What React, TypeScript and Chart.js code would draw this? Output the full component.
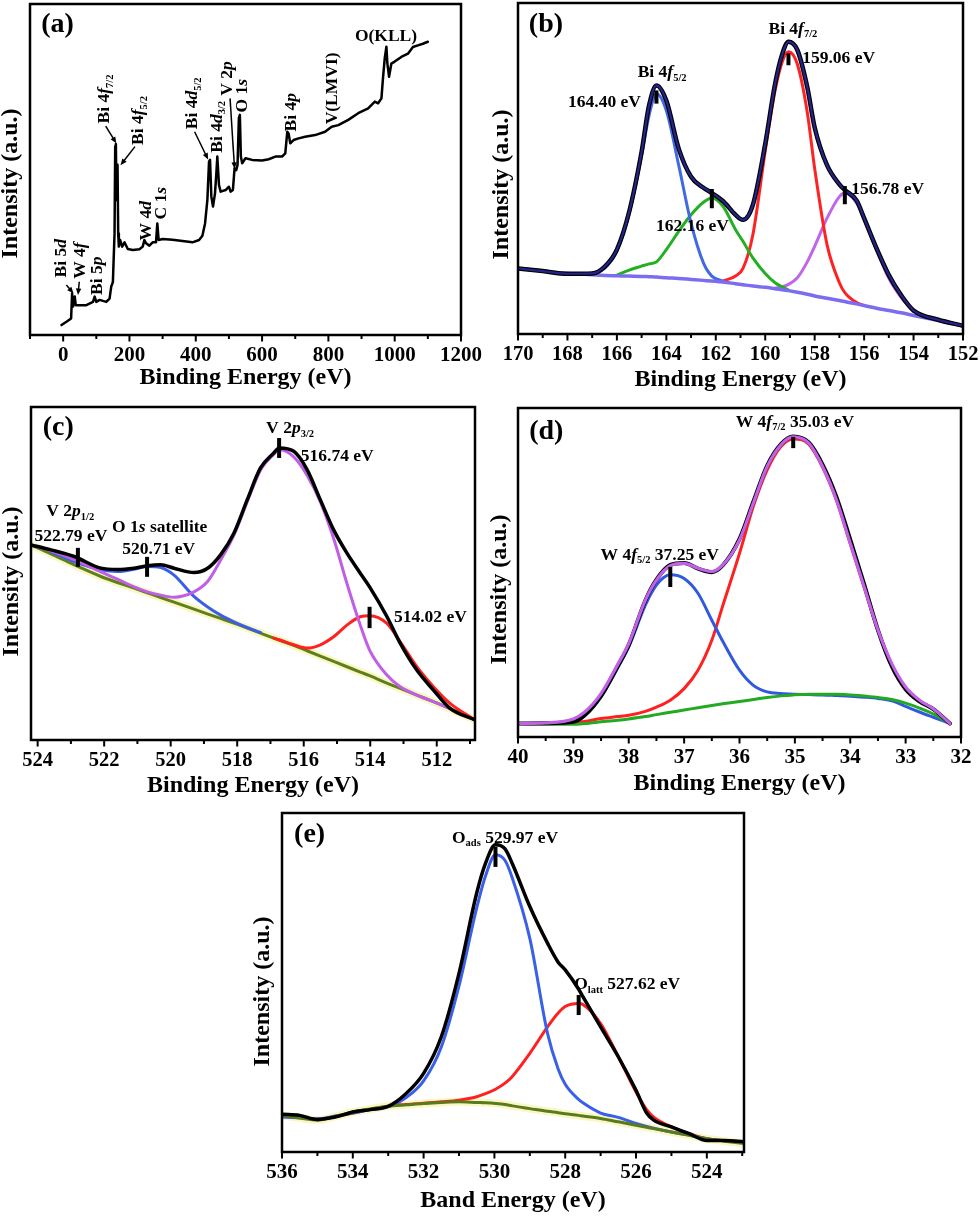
import React, { useEffect, useRef } from "react";
import { Chart, registerables } from "chart.js";
Chart.register(...registerables);

const FONT = '"Liberation Serif", "Times New Roman", serif';

// ---------- (a) survey spectrum ----------
const surveyEnergy = [-5, 10, 24, 27, 30, 35, 38, 50, 70, 90, 95, 100, 110, 130, 140, 145, 150, 155, 157, 159, 161, 164, 166, 168, 172, 178, 185, 195, 210, 230, 240, 245, 250, 260, 270, 280, 284, 288, 300, 330, 360, 390, 410, 420, 428, 435, 440, 443, 447, 452, 458, 462, 465, 470, 475, 490, 500, 505, 512, 515, 517, 522, 526, 530, 533, 536, 540, 550, 570, 600, 620, 640, 660, 670, 676, 680, 685, 695, 710, 730, 760, 790, 810, 830, 860, 890, 920, 940, 950, 960, 965, 970, 975, 978, 983, 990, 1000, 1020, 1040, 1055, 1070, 1085, 1100];
const surveyIntensity = [3.0, 4, 5, 12.6, 8.6, 11.6, 9, 9, 9, 10, 11.6, 10, 10.6, 10, 11, 14.6, 16, 30.7, 57, 57.7, 40.8, 51.4, 30.7, 26.7, 28.7, 26.7, 28, 26, 25.7, 25.9, 26.7, 28.7, 27.7, 27, 28, 28, 33.7, 28.7, 29, 28.8, 28.4, 28, 28.7, 30, 33.7, 40.8, 52.4, 52.9, 41.8, 38.8, 42.8, 48.8, 53.9, 45.3, 43.3, 43.8, 44.8, 43.3, 43.8, 47.8, 50.4, 49.8, 51.4, 65.5, 66.5, 53.9, 51.9, 53.4, 52.9, 52.7, 53.1, 53.9, 53.9, 54.9, 61.4, 60.9, 57.9, 58.9, 59.4, 59.9, 60.4, 61.4, 62.9, 63.4, 65, 67, 68.5, 70.5, 70, 71.5, 78, 83.6, 87.1, 82, 78, 82, 82.6, 84, 85, 87, 87.5, 88, 88.6];
const surveyTicks = [-100, 0, 100, 200, 300, 400, 500, 600, 700, 800, 900, 1000, 1100, 1200];
const surveyLabels = [0, 200, 400, 600, 800, 1000, 1200];

// ---------- (b) Bi 4f ----------
const biEnergy = [170, 169, 168, 167, 166.5, 166, 165.5, 165, 164.7, 164.4, 164, 163.5, 163, 162.5, 162.16, 161.7, 161.2, 160.9, 160.5, 160, 159.6, 159.3, 159.06, 158.7, 158.3, 158, 157.5, 157, 156.78, 156.3, 156, 155.5, 155, 154.5, 154, 153, 152];
const biBackground = [19.8, 19.0, 18.3, 17.9, 17.7, 17.6, 17.5, 17.4, 17.3, 17.2, 17.0, 16.8, 16.5, 16.2, 16.0, 15.7, 15.2, 14.9, 14.5, 14.1, 13.7, 13.4, 13.1, 12.6, 12.0, 11.5, 10.8, 10.1, 9.8, 9.1, 8.6, 7.8, 7.1, 6.4, 5.6, 4.1, 2.5];
const biEnvelope = [19.8, 19.0, 18.2, 18.3, 20.3, 25.5, 37, 55, 69, 75.1, 70.5, 56, 47.5, 44.2, 42.6, 40.1, 36, 34.5, 39, 57.4, 75.6, 84.8, 88.3, 85.8, 74.6, 62.4, 51, 45.2, 43.5, 40.3, 35, 25.9, 17.8, 11.7, 7.1, 4.3, 2.5];
const biPeak1 = [null, null, null, 18.3, 19.8, 25, 36.5, 54, 66, 72.6, 67.5, 51, 33.5, 21.5, 17.5, 16.0, null, null, null, null, null, null, null, null, null, null, null, null, null, null, null, null, null, null, null, null, null];
const biPeak2 = [null, null, null, null, null, 17.8, 19.3, 20.5, 21.2, 21.8, 25.5, 31, 36, 39.8, 41.1, 38.5, 31.5, 28, 23, 18.3, 15.5, 14.2, 13.3, null, null, null, null, null, null, null, null, null, null, null, null, null, null];
const biPeak3 = [null, null, null, null, null, null, null, null, null, null, null, null, null, null, null, 16.0, 17.5, 19.8, 30, 55.3, 73.6, 82.5, 85.3, 81.5, 67, 50, 27, 15.5, 12.5, 9.5, 8.6, null, null, null, null, null, null];
const biPeak4 = [null, null, null, null, null, null, null, null, null, null, null, null, null, null, null, null, null, null, null, null, 13.8, 14.3, 15, 17, 21.8, 26.5, 35, 41.5, 42.6, 39.5, 34.5, 25.4, 16.8, 11, 6.8, null, null];
const biMarkE = [164.40, 162.16, 159.06, 156.78];
const biMarkLow = [69.6, 38, 81.2, 39.2];
const biMarkHigh = [73.6, 43.8, 84.8, 44.7];
const biTicks = [152, 153, 154, 155, 156, 157, 158, 159, 160, 161, 162, 163, 164, 165, 166, 167, 168, 169, 170];
const biLabels = [152, 154, 156, 158, 160, 162, 164, 166, 168, 170];

// ---------- (c) V 2p ----------
const vEnergy = [524.2, 523.6, 522.9, 522.1, 521.6, 521.1, 520.7, 520.3, 519.9, 519.3, 518.9, 518.5, 518.1, 517.7, 517.3, 516.9, 516.74, 516.3, 515.9, 515.5, 515.1, 514.7, 514.3, 514.02, 513.5, 513.1, 512.6, 512.1, 511.6, 510.85];
const vBackground = [58.6, 55.9, 52.6, 49.1, 47.3, 45.6, 44.2, 42.8, 41.4, 39.3, 37.9, 36.5, 35.1, 33.6, 32.1, 30.6, 30.0, 28.4, 26.8, 25.2, 23.6, 22.0, 20.4, 19.3, 17.1, 15.5, 13.5, 11.5, 9.4, 6.0];
const vEnvelope = [58.6, 57.1, 55.1, 51.6, 51.2, 51.6, 52.3, 52.6, 51.6, 50.3, 51.5, 55.6, 62.1, 72.1, 81.7, 86.2, 87.7, 86.7, 81.2, 72.1, 63.1, 56.1, 50.1, 46, 37.1, 29.1, 21, 15, 9.5, 6];
const vPeak516 = [58.6, 56.8, 54.2, 50.5, 48.3, 46, 44.5, 43.5, 42.9, 44.5, 47.5, 54, 61.5, 71.5, 81, 85.8, 87.2, 85, 79.5, 71.5, 60.5, 47, 34.5, 27, 19.5, 16, 13.5, 11.5, 9.4, null];
const vPeak520 = [null, 56.6, 53.6, 51.1, 50.6, 51.3, 52.1, 51.8, 49.5, 43.1, 40, 37.5, 35.5, 33.8, 32.3, null, null, null, null, null, null, null, null, null, null, null, null, null, null, null];
const vPeak514 = [null, null, null, null, null, null, null, null, null, null, null, null, null, null, null, 30.6, 30.1, 28.6, 27.6, 28.6, 31, 34.5, 37, 37.3, 35, 29.5, 22, 16, 11, 6];
const vMarkE = [522.79, 520.71, 516.74, 514.02];
const vMarkLow = [52, 49, 84.7, 33.6];
const vMarkHigh = [57.7, 55, 90.7, 40];
const vTicks = [511, 512, 513, 514, 515, 516, 517, 518, 519, 520, 521, 522, 523, 524];
const vLabels = [512, 514, 516, 518, 520, 522, 524];

// ---------- (d) W 4f ----------
const wEnergy = [40, 39.5, 39, 38.8, 38.5, 38.2, 38, 37.7, 37.5, 37.25, 37, 36.75, 36.5, 36.3, 36, 35.75, 35.5, 35.25, 35.03, 34.75, 34.5, 34.25, 34, 33.75, 33.5, 33.25, 33, 32.75, 32.5, 32.2];
const wBackground = [4.1, 3.9, 3.9, 4.1, 4.6, 5.1, 5.5, 6.2, 6.8, 7.5, 8.2, 8.9, 9.6, 10.1, 10.8, 11.4, 12.0, 12.5, 12.8, 13.0, 13.0, 13.0, 12.8, 12.5, 12.0, 11.4, 10.3, 8.8, 7.0, 4.1];
const wFit = [4.1, 4.3, 5.5, 7.5, 13.2, 22, 28.4, 41.6, 47.7, 52.1, 52.8, 51.3, 50.3, 52.3, 59.9, 71.1, 82.2, 88.8, 91.2, 89.3, 82.2, 72.1, 58.9, 45.7, 32.5, 22.3, 15.2, 11.2, 8.6, 4.1];
const wMeasured = [4.1, 4.2, 4.6, 6.5, 12.5, 21.5, 28, 41.5, 47.8, 52.3, 52.9, 51.2, 50.1, 52.2, 60.2, 71.5, 82.5, 89, 91.3, 89.5, 82.8, 73, 60, 46.5, 32.5, 21.5, 14.5, 10.8, 8.5, 4.1];
const wPeak37 = [null, 4.2, 4.6, 6.5, 12.2, 21, 27.4, 40.1, 46.2, 49.3, 48.2, 43.7, 35.5, 29, 20.3, 15.7, 13.7, 13.2, 13, 12.9, 12.8, 12.6, 12.4, 12.1, 11.7, 11.0, 9.3, 7.6, 6.0, 4.1];
const wPeak35 = [4.1, 4.0, 4.3, 4.7, 5.6, 6.2, 6.6, 7.8, 9.1, 11.2, 14.7, 20.3, 29.4, 40, 55.8, 70.1, 81.2, 88.3, 90.6, 89, 82, 72, 58.7, 45.5, 32.3, 22, 15, 11, 8.4, 4.1];
const wMarkE = [37.25, 35.03];
const wMarkLow = [45.6, 87.8];
const wMarkHigh = [51.7, 91.2];
const wTicks = [32, 32.5, 33, 33.5, 34, 34.5, 35, 35.5, 36, 36.5, 37, 37.5, 38, 38.5, 39, 39.5, 40];
const wLabels = [32, 33, 34, 35, 36, 37, 38, 39, 40];

// ---------- (e) O 1s ----------
const oEnergy = [536, 535.5, 535, 534.5, 534, 533.5, 533, 532.5, 532, 531.5, 531, 530.5, 530.25, 529.97, 529.7, 529.5, 529, 528.5, 528.2, 528, 527.62, 527.5, 527, 526.5, 526, 525.7, 525.5, 525, 524.5, 524, 523.5, 522.95];
const oBackground = [10.8, 10.0, 9.4, 10.5, 11.8, 12.7, 13.5, 13.9, 14.3, 14.6, 14.8, 14.6, 14.5, 14.3, 14.0, 13.6, 12.8, 12.0, 11.6, 11.3, 10.8, 10.6, 9.9, 8.9, 7.9, 7.3, 6.9, 5.9, 4.9, 3.9, 3.2, 2.5];
const oMeasured = [11.1, 10.8, 9.6, 10.3, 11.8, 12.5, 13.5, 17.2, 23.2, 34, 52.7, 76.4, 85.2, 90.6, 89.4, 85.2, 72.4, 61.6, 56, 53.7, 48, 45.8, 36.9, 28.1, 18.2, 11.5, 9.4, 7.4, 5.4, 3.4, 3.4, 3.0];
const oAds = [10.3, 10.1, 9.8, 10.6, 11.5, 12.5, 13.3, 16, 21, 31, 49, 72, 81.5, 87.7, 86, 81, 63, 35, 24.5, 20, 15.5, 14.5, 11.5, 10.2, 8.4, 7.5, 7.0, 5.9, 5.0, 3.9, 3.3, 3.0];
const oLatt = [10.5, 10.2, 9.6, 10.4, 11.5, 12.6, 13.5, 14, 14.4, 14.8, 15.3, 16.3, 17.2, 18.5, 20.3, 22.2, 29.1, 36.9, 41, 42.9, 43.8, 43.5, 37.9, 28.1, 17.7, 12.5, 10.3, 7.4, 5.4, 3.9, 3.3, 3.0];
const oMarkE = [529.97, 527.62];
const oMarkLow = [84.1, 40.4];
const oMarkHigh = [90, 46.3];
const oTicks = [523, 524, 525, 526, 527, 528, 529, 530, 531, 532, 533, 534, 535, 536];
const oLabels = [524, 526, 528, 530, 532, 534, 536];

// ---------- annotations (text in data coordinates) ----------
type Note = { x: number; y: number; s: string; rot?: boolean; size?: number };
const notesA: Note[] = [
  { x: -17, y: 93.7, s: "(a)", size: 28 },
  { x: -4.9, y: 23.2, s: "Bi 5*d*", rot: true },
  { x: 53.4, y: 22.5, s: "W 4*f*", rot: true },
  { x: 104, y: 17.9, s: "Bi 5*p*", rot: true },
  { x: 124.4, y: 71.3, s: "Bi 4*f*_{7/2}", rot: true },
  { x: 228.4, y: 64.8, s: "Bi 4*f*_{5/2}", rot: true },
  { x: 250.7, y: 34.5, s: "W 4*d*", rot: true },
  { x: 296.4, y: 39.8, s: "C 1*s*", rot: true },
  { x: 390.7, y: 70, s: "Bi 4*d*_{5/2}", rot: true },
  { x: 464.5, y: 62.9, s: "Bi 4*d*_{3/2}", rot: true },
  { x: 495.6, y: 77.5, s: "V 2*p*", rot: true },
  { x: 542.3, y: 72.3, s: "O 1*s*", rot: true },
  { x: 690, y: 67.3, s: "Bi 4*p*", rot: true },
  { x: 811.5, y: 74.5, s: "V(LMVI)", rot: true },
  { x: 973.8, y: 90.1, s: "O(KLL)" },
];
const arrowsA = [
  [9.7, 15.1, 31.1, 12.6],
  [48.6, 16.1, 44.7, 12.1],
  [128.3, 63.1, 160.3, 57.9],
  [216.6, 56.9, 173, 51.3],
  [396.5, 61.4, 437.3, 53],
  [503.4, 71.5, 517, 50.2],
];
const notesB: Note[] = [
  { x: 168.87, y: 93.3, s: "(b)", size: 28 },
  { x: 164.17, y: 79.0, s: "Bi 4*f*_{5/2}" },
  { x: 166.5, y: 69.9, s: "164.40 eV" },
  { x: 158.88, y: 92.1, s: "Bi 4*f*_{7/2}" },
  { x: 157.03, y: 83.3, s: "159.06 eV" },
  { x: 162.94, y: 32.5, s: "162.16 eV" },
  { x: 155.05, y: 43.8, s: "156.78 eV" },
];
const notesC: Note[] = [
  { x: 523.38, y: 93.7, s: "(c)", size: 28 },
  { x: 516.41, y: 93.4, s: "V 2*p*_{3/2}" },
  { x: 514.99, y: 85, s: "516.74 eV" },
  { x: 523.02, y: 68.5, s: "V 2*p*_{1/2}" },
  { x: 523.0, y: 61, s: "522.79 eV" },
  { x: 520.33, y: 63.7, s: "O 1*s* satellite" },
  { x: 520.36, y: 57.1, s: "520.71 eV" },
  { x: 512.19, y: 36.9, s: "514.02 eV" },
];
const notesD: Note[] = [
  { x: 39.49, y: 92.7, s: "(d)", size: 28 },
  { x: 35.0, y: 95.7, s: "W 4*f*_{7/2} 35.03 eV" },
  { x: 37.44, y: 55.3, s: "W 4*f*_{5/2} 37.25 eV" },
];
const notesE: Note[] = [
  { x: 535.22, y: 93.5, s: "(e)", size: 28 },
  { x: 529.7, y: 92.6, s: "O_{ads} 529.97 eV" },
  { x: 526.25, y: 49.3, s: "O_{latt} 527.62 eV" },
];

// ---------- helpers ----------
type Seg = { t: string; it: boolean; sub: boolean };
function parseRich(s: string): Seg[] {
  const out: Seg[] = [];
  let it = false, sub = false, cur = "";
  const push = () => { if (cur) out.push({ t: cur, it, sub }); cur = ""; };
  for (let i = 0; i < s.length; i++) {
    const c = s[i];
    if (c === "*") { push(); it = !it; }
    else if (c === "_" && s[i + 1] === "{") { push(); sub = true; i++; }
    else if (c === "}" && sub) { push(); sub = false; }
    else cur += c;
  }
  push();
  return out;
}
function segFont(sg: Seg, size: number) {
  const s = sg.sub ? size * 0.6 : size;
  return `${sg.it ? "italic " : ""}bold ${s}px ${FONT}`;
}
function drawRich(ctx: CanvasRenderingContext2D, s: string, size: number) {
  const segs = parseRich(s);
  let w = 0;
  const ws = segs.map((sg) => { ctx.font = segFont(sg, size); const m = ctx.measureText(sg.t).width; w += m; return m; });
  let cx = -w / 2;
  ctx.textAlign = "left";
  ctx.textBaseline = "middle";
  segs.forEach((sg, i) => {
    ctx.font = segFont(sg, size);
    ctx.fillText(sg.t, cx, sg.sub ? size * 0.32 : 0);
    cx += ws[i];
  });
}
const pts = (xs: number[], ys: (number | null)[]) => xs.map((x, i) => ({ x, y: ys[i] }));
const line = (data: any, color: string, width: number, tension = true) => ({
  data, borderColor: color, borderWidth: width, pointRadius: 0, fill: false,
  cubicInterpolationMode: tension ? "monotone" : "default", tension: 0, spanGaps: false,
  borderCapStyle: "round", borderJoinStyle: "round",
});
const marks = (es: number[], lo: number[], hi: number[]) =>
  es.map((e, i) => ({ ...line([{ x: e, y: lo[i] }, { x: e, y: hi[i] }], "#000", 4, false), borderCapStyle: "butt" }));

type Spec = {
  left: number; top: number; w: number; h: number;
  pad: { left: number; right: number; top: number }; axisH: number;
  min: number; max: number; reverse: boolean; ticks: number[]; labels: number[];
  tickFont: number; tickPad: number;
  datasets: any[]; notes: Note[]; arrows?: number[][];
  xTitle: string; xTitleOff: number; yTitleOff: number; yTitleShift: number;
};

function Panel({ spec }: { spec: Spec }) {
  const ref = useRef<HTMLCanvasElement>(null);
  useEffect(() => {
    const deco = {
      id: "deco",
      afterDatasetsDraw(chart: any) {
        const { ctx, chartArea: a, scales } = chart;
        const xs = scales.x, ys = scales.y;
        ctx.save();
        ctx.strokeStyle = "#000";
        ctx.fillStyle = "#000";
        // tick marks: longer at labelled values
        ctx.lineWidth = 2;
        spec.ticks.forEach((v) => {
          const px = xs.getPixelForValue(v);
          const len = spec.labels.includes(v) ? 6.5 : 4;
          ctx.beginPath(); ctx.moveTo(px, a.bottom); ctx.lineTo(px, a.bottom + len); ctx.stroke();
        });
        (spec.arrows || []).forEach(([x1, y1, x2, y2]) => {
          const p1x = xs.getPixelForValue(x1), p1y = ys.getPixelForValue(y1);
          const p2x = xs.getPixelForValue(x2), p2y = ys.getPixelForValue(y2);
          const ang = Math.atan2(p2y - p1y, p2x - p1x);
          ctx.lineWidth = 1.5;
          ctx.beginPath(); ctx.moveTo(p1x, p1y); ctx.lineTo(p2x - 4 * Math.cos(ang), p2y - 4 * Math.sin(ang)); ctx.stroke();
          ctx.beginPath();
          ctx.moveTo(p2x, p2y);
          ctx.lineTo(p2x - 7 * Math.cos(ang - 0.4), p2y - 7 * Math.sin(ang - 0.4));
          ctx.lineTo(p2x - 7 * Math.cos(ang + 0.4), p2y - 7 * Math.sin(ang + 0.4));
          ctx.closePath(); ctx.fill();
        });
        spec.notes.forEach((n) => {
          ctx.save();
          ctx.translate(xs.getPixelForValue(n.x), ys.getPixelForValue(n.y));
          if (n.rot) ctx.rotate(-Math.PI / 2);
          drawRich(ctx, n.s, n.size || 17.5);
          ctx.restore();
        });
        ctx.lineWidth = 2.5;
        ctx.strokeRect(a.left, a.top, a.right - a.left, a.bottom - a.top);
        ctx.font = `bold 24px ${FONT}`;
        ctx.textAlign = "center";
        ctx.textBaseline = "middle";
        ctx.fillText(spec.xTitle, (a.left + a.right) / 2, a.bottom + spec.xTitleOff);
        ctx.translate(a.left - spec.yTitleOff, (a.top + a.bottom) / 2 + spec.yTitleShift);
        ctx.rotate(-Math.PI / 2);
        ctx.fillText("Intensity (a.u.)", 0, 0);
        ctx.restore();
      },
    };
    const chart = new Chart(ref.current as HTMLCanvasElement, {
      type: "line",
      data: { datasets: spec.datasets },
      options: {
        animation: false,
        responsive: false,
        events: [],
        layout: { padding: { left: spec.pad.left, right: spec.pad.right, top: spec.pad.top, bottom: 0 } },
        plugins: { legend: { display: false }, tooltip: { enabled: false } },
        scales: {
          x: {
            type: "linear", min: spec.min, max: spec.max, reverse: spec.reverse,
            afterBuildTicks: (s: any) => { s.ticks = spec.ticks.map((v) => ({ value: v })); },
            afterFit: (s: any) => { s.height = spec.axisH; },
            ticks: {
              autoSkip: false, maxRotation: 0, minRotation: 0, color: "#000", padding: spec.tickPad,
              font: { family: FONT, size: spec.tickFont, weight: "bold" },
              callback: (v: any) => (spec.labels.includes(Number(v)) ? String(v) : ""),
            },
            grid: { display: false, drawTicks: false },
            border: { display: false },
          },
          y: { type: "linear", min: 0, max: 100, display: false },
        },
      } as any,
      plugins: [deco],
    });
    return () => chart.destroy();
  }, []);
  return (
    <canvas ref={ref} width={spec.w} height={spec.h}
      style={{ position: "absolute", left: spec.left, top: spec.top, width: spec.w, height: spec.h, display: "block" }} />
  );
}

const glow = (data: any) => ({ ...line(data, "rgba(245,240,150,0.55)", 8) });

const specs: Spec[] = [
  {
    left: 0, top: 0, w: 490, h: 400, pad: { left: 30, right: 15, top: 4 }, axisH: 65,
    min: -100, max: 1200, reverse: false, ticks: surveyTicks, labels: surveyLabels, tickFont: 21, tickPad: 8,
    datasets: [line(pts(surveyEnergy, surveyIntensity), "#000", 2.5, false)],
    notes: notesA, arrows: arrowsA,
    xTitle: "Binding Energy (eV)", xTitleOff: 43, yTitleOff: 19, yTitleShift: 14,
  },
  {
    left: 490, top: 0, w: 490, h: 400, pad: { left: 28, right: 17, top: 3 }, axisH: 66,
    min: 152, max: 170, reverse: true, ticks: biTicks, labels: biLabels, tickFont: 20.5, tickPad: 8,
    datasets: [
      ...marks(biMarkE, biMarkLow, biMarkHigh),
      line(pts(biEnergy, biEnvelope), "#24248a", 2.2),
      line(pts(biEnergy, biEnvelope), "#000", 4.5),
      line(pts(biEnergy, biBackground), "#7b6cf0", 3.5),
      line(pts(biEnergy, biPeak1), "#4169e1", 3),
      line(pts(biEnergy, biPeak2), "#22b022", 3),
      line(pts(biEnergy, biPeak3), "#ff2222", 3),
      line(pts(biEnergy, biPeak4), "#c066e8", 3),
    ],
    notes: notesB,
    xTitle: "Binding Energy (eV)", xTitleOff: 46, yTitleOff: 16, yTitleShift: 16,
  },
  {
    left: 0, top: 400, w: 490, h: 400, pad: { left: 31, right: 15, top: 7 }, axisH: 60,
    min: 510.85, max: 524.2, reverse: true, ticks: vTicks, labels: vLabels, tickFont: 20.5, tickPad: 8,
    datasets: [
      ...marks(vMarkE, vMarkLow, vMarkHigh),
      line(pts(vEnergy, vEnvelope), "#000", 3.5),
      line(pts(vEnergy, vPeak516), "#c05ee6", 3),
      line(pts(vEnergy, vPeak520), "#3b5ee8", 3),
      line(pts(vEnergy, vPeak514), "#ff2020", 3),
      line(pts(vEnergy, vBackground), "#5e7f1a", 3),
      glow(pts(vEnergy, vBackground)),
    ],
    notes: notesC,
    xTitle: "Binding Energy (eV)", xTitleOff: 46, yTitleOff: 19, yTitleShift: 8,
  },
  {
    left: 490, top: 400, w: 490, h: 400, pad: { left: 28, right: 19, top: 8 }, axisH: 63,
    min: 32, max: 40, reverse: true, ticks: wTicks, labels: wLabels, tickFont: 21, tickPad: 8,
    datasets: [
      ...marks(wMarkE, wMarkLow, wMarkHigh),
      line(pts(wEnergy, wFit), "#c061e8", 3.2),
      line(pts(wEnergy, wMeasured), "#000", 4),
      line(pts(wEnergy, wBackground), "#22aa22", 3),
      line(pts(wEnergy, wPeak37), "#3358e0", 3),
      line(pts(wEnergy, wPeak35), "#ff2020", 3),
    ],
    notes: notesD,
    xTitle: "Binding Energy (eV)", xTitleOff: 47, yTitleOff: 18, yTitleShift: 17,
  },
  {
    left: 240, top: 810, w: 520, h: 409, pad: { left: 42, right: 16, top: 3 }, axisH: 67,
    min: 522.95, max: 536, reverse: true, ticks: oTicks, labels: oLabels, tickFont: 21, tickPad: 8,
    datasets: [
      ...marks(oMarkE, oMarkLow, oMarkHigh),
      line(pts(oEnergy, oMeasured), "#000", 3.5),
      line(pts(oEnergy, oBackground), "#5a7a1e", 3),
      line(pts(oEnergy, oAds), "#3a5fe8", 3),
      line(pts(oEnergy, oLatt), "#ff2020", 3),
      glow(pts(oEnergy, oBackground)),
    ],
    notes: notesE,
    xTitle: "Band Energy (eV)", xTitleOff: 49, yTitleOff: 19, yTitleShift: 9,
  },
];

export default function App() {
  return (
    <div style={{ position: "absolute", left: 0, top: 0, width: 980, height: 1219, background: "#fff", overflow: "hidden" }}>
      {specs.map((s, i) => <Panel key={i} spec={s} />)}
    </div>
  );
}
